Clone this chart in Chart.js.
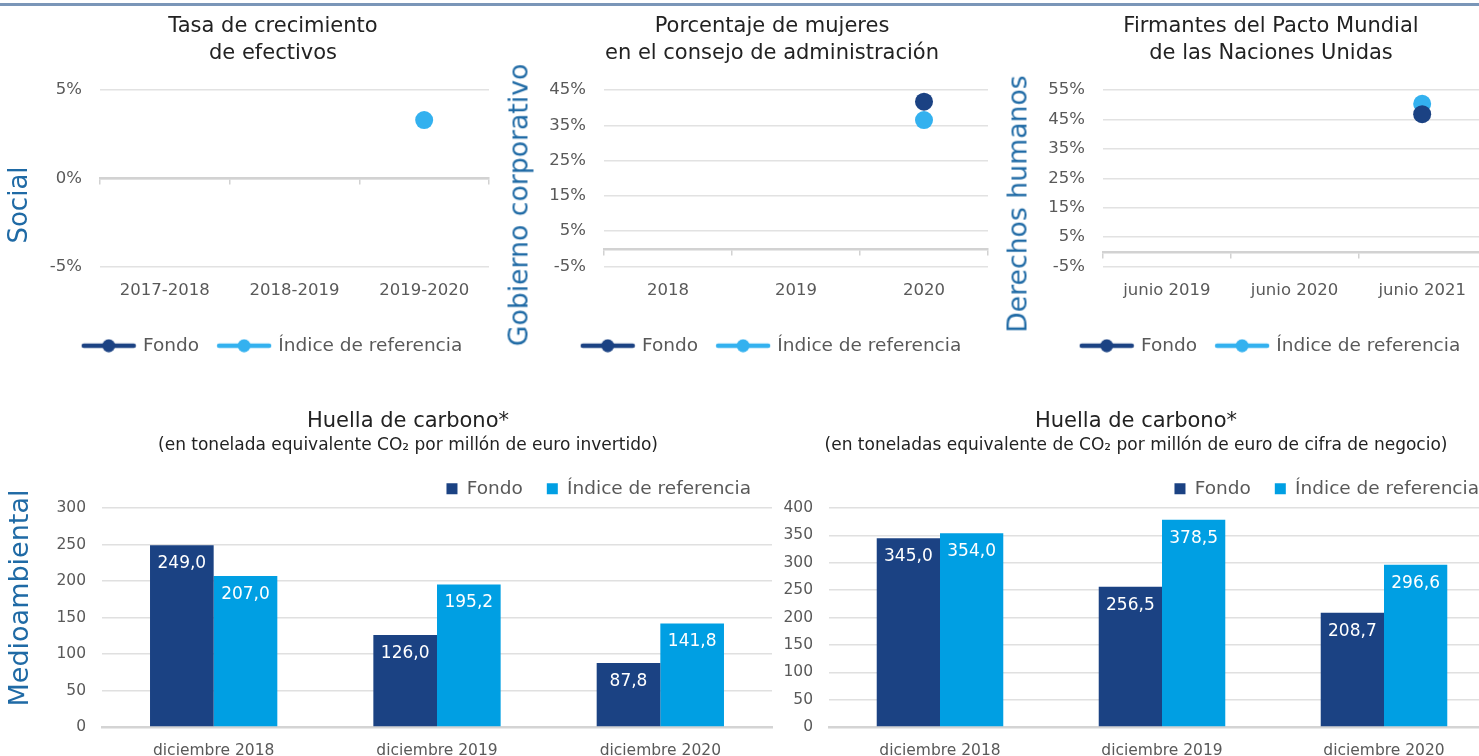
<!DOCTYPE html>
<html>
<head>
<meta charset="utf-8">
<script src="https://cdn.jsdelivr.net/npm/chart.js@4/dist/chart.umd.min.js"></script>
<style>
  body { margin: 0; background: #fff; font-family: 'DejaVu Sans', sans-serif; }
  #page { position: relative; width: 1479px; height: 756px; overflow: hidden; background: #fff; }
  #topline { position: absolute; left: 0; top: 3px; width: 1479px; height: 3px; background: #7a96b8; }
  canvas { position: absolute; }
  .side { position: absolute; color: #1f6aa5; white-space: nowrap; transform: translate(-50%, -50%) rotate(-90deg); }
</style>
</head>
<body>
<div id="page">
  <div id="topline"></div>
  <canvas id="socialChart" width="546" height="370" style="left:0px;top:0px"></canvas>
  <canvas id="boardChart" width="550" height="370" style="left:497px;top:0px"></canvas>
  <canvas id="pactChart" width="548" height="370" style="left:997px;top:0px"></canvas>
  <canvas id="carbonInvChart" width="734" height="366" style="left:41px;top:390px"></canvas>
  <canvas id="carbonRevChart" width="734" height="366" style="left:769px;top:390px"></canvas>
  <div class="side" style="left:18px;top:205px;font-size:26px">Social</div>
  <div class="side" style="left:518px;top:205px;font-size:26.7px">Gobierno corporativo</div>
  <div class="side" style="left:1017px;top:204px;font-size:26.7px">Derechos humanos</div>
  <div class="side" style="left:18px;top:598px;font-size:27px">Medioambiental</div>
</div>
<script>
// data
const seriesNames = ['Fondo', 'Índice de referencia'];

const socialYears = ['2017-2018', '2018-2019', '2019-2020'];
const socialFondo = [null, null, null];
const socialIndice = [null, null, 3.3];
const socialTicks = [-5, 0, 5];

const boardYears = ['2018', '2019', '2020'];
const boardFondo = [null, null, 41.7];
const boardIndice = [null, null, 36.5];
const boardTicks = [-5, 5, 15, 25, 35, 45];

const pactYears = ['junio 2019', 'junio 2020', 'junio 2021'];
const pactFondo = [null, null, 46.8];
const pactIndice = [null, null, 50.3];
const pactTicks = [-5, 5, 15, 25, 35, 45, 55];

const carbonMonths = ['diciembre 2018', 'diciembre 2019', 'diciembre 2020'];
const carbonInvFondo = [249.0, 126.0, 87.8];
const carbonInvIndice = [207.0, 195.2, 141.8];
const carbonInvTicks = [0, 50, 100, 150, 200, 250, 300];
const carbonRevFondo = [345.0, 256.5, 208.7];
const carbonRevIndice = [354.0, 378.5, 296.6];
const carbonRevTicks = [0, 50, 100, 150, 200, 250, 300, 350, 400];

const darkBlue = '#1b4283';
const lightDot = '#33b1ef';
const lightBar = '#009fe3';
const tickColor = '#595959';
const titleColor = '#222222';

Chart.defaults.font.family = "'DejaVu Sans', sans-serif";
Chart.defaults.color = tickColor;

// legend icon: line with a dot in the middle
function lineDotIcon(color) {
    const c = document.createElement('canvas');
    c.width = 56;
    c.height = 14;
    const g = c.getContext('2d');
    g.strokeStyle = color;
    g.lineWidth = 4.5;
    g.lineCap = 'round';
    g.beginPath();
    g.moveTo(3, 7);
    g.lineTo(53, 7);
    g.stroke();
    g.fillStyle = color;
    g.beginPath();
    g.arc(28, 7, 6.5, 0, Math.PI * 2);
    g.fill();
    return c;
}
const icons = [lineDotIcon(darkBlue), lineDotIcon(lightDot)];

function fixedTicks(values) {
    return function (scale) {
        scale.ticks = values.map(v => ({ value: v }));
    };
}

function dotChart(id, title, labels, fondo, indice, ticks, leftW, rightW) {
    new Chart(document.getElementById(id), {
        type: 'line',
        data: {
            labels: labels,
            datasets: [
                { label: seriesNames[0], data: fondo, showLine: false, pointRadius: 9, pointHoverRadius: 9,
                  pointBorderWidth: 0, backgroundColor: darkBlue, borderColor: darkBlue, xAxisID: 'x', yAxisID: 'y' },
                { label: seriesNames[1], data: indice, showLine: false, pointRadius: 9, pointHoverRadius: 9,
                  pointBorderWidth: 0, backgroundColor: lightDot, borderColor: lightDot, xAxisID: 'x', yAxisID: 'y' }
            ]
        },
        options: {
            responsive: false,
            animation: false,
            devicePixelRatio: 1,
            layout: { padding: { top: 0, bottom: 5, left: 0, right: 0 } },
            plugins: {
                title: {
                    display: true,
                    text: title,
                    color: titleColor,
                    font: { size: 21, weight: 'normal', lineHeight: 1.286 },
                    padding: { top: 13, bottom: 23 }
                },
                legend: {
                    position: 'bottom',
                    labels: {
                        usePointStyle: true,
                        pointStyleWidth: 50,
                        padding: 20,
                        color: tickColor,
                        font: { size: 18.5 },
                        generateLabels(chart) {
                            const items = Chart.defaults.plugins.legend.labels.generateLabels(chart);
                            items.forEach((it, i) => { it.pointStyle = icons[i]; });
                            return items;
                        }
                    }
                },
                tooltip: { enabled: false }
            },
            scales: {
                x: {
                    type: 'category',
                    offset: true,
                    grid: { display: false, drawTicks: false },
                    border: { display: false },
                    ticks: { font: { size: 16.5 }, color: tickColor, padding: 14 },
                    afterFit(s) { s.height = 50; }
                },
                xb: {
                    type: 'category',
                    position: { y: 0 },
                    offset: true,
                    grid: { offset: true, drawOnChartArea: false, drawTicks: true, tickLength: 5, color: '#d2d2d2', lineWidth: 1.5 },
                    border: { display: true, color: '#d2d2d2', width: 2.5 },
                    ticks: { display: false }
                },
                y: {
                    min: ticks[0],
                    max: ticks[ticks.length - 1],
                    afterBuildTicks: fixedTicks(ticks),
                    grid: { color: '#e2e2e2', lineWidth: 1.5, drawTicks: false },
                    border: { display: false },
                    ticks: { font: { size: 16.5 }, color: tickColor, padding: 18, callback: v => v + '%' },
                    afterFit(s) { s.width = leftW; }
                },
                yr: {
                    position: 'right',
                    grid: { display: false },
                    border: { display: false },
                    ticks: { display: false },
                    afterFit(s) { s.width = rightW; }
                }
            }
        }
    });
}

// white value labels inside the top of each bar
const barValueLabels = {
    id: 'barValueLabels',
    afterDatasetsDraw(chart) {
        const ctx = chart.ctx;
        ctx.save();
        ctx.fillStyle = '#ffffff';
        ctx.font = "17px 'DejaVu Sans'";
        ctx.textAlign = 'center';
        ctx.textBaseline = 'middle';
        chart.data.datasets.forEach((ds, i) => {
            chart.getDatasetMeta(i).data.forEach((bar, j) => {
                ctx.fillText(ds.data[j].toFixed(1).replace('.', ','), bar.x, bar.y + 18.5);
            });
        });
        ctx.restore();
    }
};

function barChart(id, subtitle, fondo, indice, ticks, leftW, rightW) {
    new Chart(document.getElementById(id), {
        type: 'bar',
        data: {
            labels: carbonMonths,
            datasets: [
                { label: seriesNames[0], data: fondo, backgroundColor: darkBlue, categoryPercentage: 0.57, barPercentage: 1, xAxisID: 'x', yAxisID: 'y' },
                { label: seriesNames[1], data: indice, backgroundColor: lightBar, categoryPercentage: 0.57, barPercentage: 1, xAxisID: 'x', yAxisID: 'y' }
            ]
        },
        plugins: [barValueLabels],
        options: {
            responsive: false,
            animation: false,
            devicePixelRatio: 1,
            layout: { padding: 0 },
            plugins: {
                title: {
                    display: true,
                    text: 'Huella de carbono*',
                    color: titleColor,
                    font: { size: 21, weight: 'normal', lineHeight: 1.2 },
                    padding: { top: 19, bottom: 0 }
                },
                subtitle: {
                    display: true,
                    text: subtitle,
                    color: titleColor,
                    font: { size: 17, weight: 'normal', lineHeight: 1.2 },
                    padding: { top: 1, bottom: 0 }
                },
                legend: {
                    position: 'top',
                    align: 'end',
                    labels: {
                        boxWidth: 11,
                        boxHeight: 11,
                        padding: 24,
                        color: tickColor,
                        font: { size: 18.5 }
                    }
                },
                tooltip: { enabled: false }
            },
            scales: {
                x: {
                    grid: { display: false, drawTicks: false },
                    border: { display: true, color: '#d4d4d4', width: 2.5 },
                    ticks: { font: { size: 15.5 }, color: tickColor, padding: 15 },
                    afterFit(s) { s.height = 29; }
                },
                y: {
                    min: ticks[0],
                    max: ticks[ticks.length - 1],
                    afterBuildTicks: fixedTicks(ticks),
                    grid: { color: '#e0e0e0', lineWidth: 1.5, drawTicks: false },
                    border: { display: false },
                    ticks: { font: { size: 15.5 }, color: tickColor, padding: 16 },
                    afterFit(s) { s.width = leftW; }
                },
                yr: {
                    position: 'right',
                    grid: { display: false },
                    border: { display: false },
                    ticks: { display: false },
                    afterFit(s) { s.width = rightW; }
                }
            }
        }
    });
}

dotChart('socialChart', ['Tasa de crecimiento', 'de efectivos'], socialYears, socialFondo, socialIndice, socialTicks, 100, 57);
dotChart('boardChart', ['Porcentaje de mujeres', 'en el consejo de administración'], boardYears, boardFondo, boardIndice, boardTicks, 107, 59);
dotChart('pactChart', ['Firmantes del Pacto Mundial', 'de las Naciones Unidas'], pactYears, pactFondo, pactIndice, pactTicks, 106, 59);

barChart('carbonInvChart', '(en tonelada equivalente CO₂ por millón de euro invertido)', carbonInvFondo, carbonInvIndice, carbonInvTicks, 61, 3);
barChart('carbonRevChart', '(en toneladas equivalente de CO₂ por millón de euro de cifra de negocio)', carbonRevFondo, carbonRevIndice, carbonRevTicks, 60, 8);
</script>
</body>
</html>
